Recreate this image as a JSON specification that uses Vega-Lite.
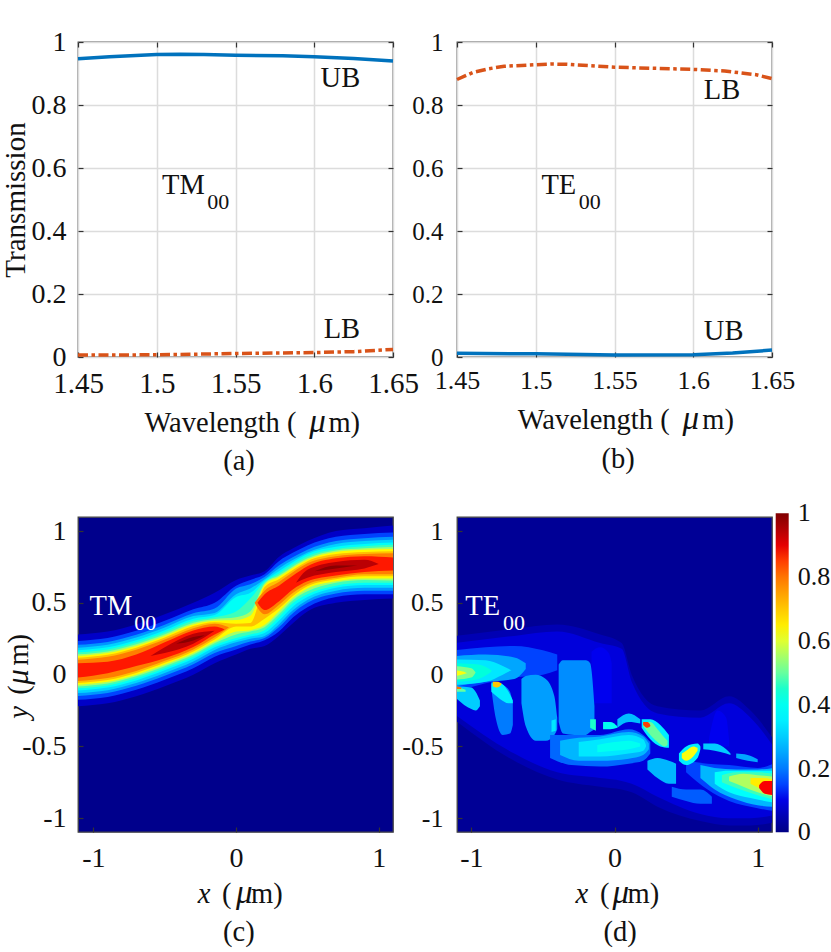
{
"$schema":"https://vega.github.io/schema/vega-lite/v6.json",
"description":"Transmission spectra of TM00 and TE00 modes and normalised field maps",
"padding":{"left":0,"top":27,"right":0,"bottom":0},
"background":"white",
"bounds":"flush",
"columns":2,
"spacing":{"row":160,"column":64},
"resolve":{"scale":{"color":"independent"},"legend":{"color":"independent"}},
"config":{
"font":"Liberation Serif",
"view":{"stroke":"#444","strokeWidth":1.3},
"axis":{"domain":false,"grid":false,"tickSize":-5,"tickColor":"#333","tickWidth":1.2,"labelColor":"#111","labelFontSize":28,"labelPadding":17,"labelFlush":false,"title":null},
"text":{"color":"#111"}
},
"datasets":{
"tm_field":[
{"id":"a1","v":0.07,"x":-1.11,"lo":-0.22,"hi":0.28},{"id":"a1","v":0.07,"x":-0.9,"lo":-0.2,"hi":0.3},{"id":"a1","v":0.07,"x":-0.7,"lo":-0.15,"hi":0.35},{"id":"a1","v":0.07,"x":-0.5,"lo":-0.08,"hi":0.42},{"id":"a1","v":0.07,"x":-0.3,"lo":0,"hi":0.5},{"id":"a1","v":0.07,"x":-0.15,"lo":0.08,"hi":0.57},{"id":"a1","v":0.07,"x":0,"lo":0.14,"hi":0.66},{"id":"a1","v":0.07,"x":0.1,"lo":0.18,"hi":0.69},{"id":"a1","v":0.07,"x":0.2,"lo":0.2,"hi":0.72},{"id":"a1","v":0.07,"x":0.3,"lo":0.27,"hi":0.82},{"id":"a1","v":0.07,"x":0.4,"lo":0.36,"hi":0.88},{"id":"a1","v":0.07,"x":0.5,"lo":0.44,"hi":0.93},{"id":"a1","v":0.07,"x":0.7,"lo":0.5,"hi":1},{"id":"a1","v":0.07,"x":0.9,"lo":0.52,"hi":1.02},{"id":"a1","v":0.07,"x":1.11,"lo":0.53,"hi":1.04},
{"id":"a2","v":0.15,"x":-1.11,"lo":-0.175,"hi":0.235},{"id":"a2","v":0.15,"x":-0.9,"lo":-0.155,"hi":0.255},{"id":"a2","v":0.15,"x":-0.7,"lo":-0.105,"hi":0.305},{"id":"a2","v":0.15,"x":-0.5,"lo":-0.035,"hi":0.375},{"id":"a2","v":0.15,"x":-0.3,"lo":0.045,"hi":0.455},{"id":"a2","v":0.15,"x":-0.15,"lo":0.125,"hi":0.5},{"id":"a2","v":0.15,"x":0,"lo":0.175,"hi":0.62},{"id":"a2","v":0.15,"x":0.1,"lo":0.21,"hi":0.66},{"id":"a2","v":0.15,"x":0.2,"lo":0.24,"hi":0.7},{"id":"a2","v":0.15,"x":0.3,"lo":0.3,"hi":0.79},{"id":"a2","v":0.15,"x":0.4,"lo":0.4,"hi":0.85},{"id":"a2","v":0.15,"x":0.5,"lo":0.47,"hi":0.9},{"id":"a2","v":0.15,"x":0.7,"lo":0.54,"hi":0.96},{"id":"a2","v":0.15,"x":0.9,"lo":0.56,"hi":0.98},{"id":"a2","v":0.15,"x":1.11,"lo":0.56,"hi":0.99},
{"id":"a3","v":0.23,"x":-1.11,"lo":-0.148,"hi":0.208},{"id":"a3","v":0.23,"x":-0.9,"lo":-0.128,"hi":0.228},{"id":"a3","v":0.23,"x":-0.7,"lo":-0.078,"hi":0.278},{"id":"a3","v":0.23,"x":-0.5,"lo":-0.008,"hi":0.348},{"id":"a3","v":0.23,"x":-0.3,"lo":0.072,"hi":0.428},{"id":"a3","v":0.23,"x":-0.15,"lo":0.15,"hi":0.46},{"id":"a3","v":0.23,"x":0,"lo":0.2,"hi":0.6},{"id":"a3","v":0.23,"x":0.1,"lo":0.23,"hi":0.63},{"id":"a3","v":0.23,"x":0.2,"lo":0.255,"hi":0.68},{"id":"a3","v":0.23,"x":0.3,"lo":0.33,"hi":0.76},{"id":"a3","v":0.23,"x":0.4,"lo":0.43,"hi":0.82},{"id":"a3","v":0.23,"x":0.5,"lo":0.5,"hi":0.87},{"id":"a3","v":0.23,"x":0.7,"lo":0.565,"hi":0.93},{"id":"a3","v":0.23,"x":0.9,"lo":0.585,"hi":0.95},{"id":"a3","v":0.23,"x":1.11,"lo":0.585,"hi":0.96},
{"id":"a4","v":0.31,"x":-1.11,"lo":-0.128,"hi":0.188},{"id":"a4","v":0.31,"x":-0.9,"lo":-0.108,"hi":0.208},{"id":"a4","v":0.31,"x":-0.7,"lo":-0.058,"hi":0.258},{"id":"a4","v":0.31,"x":-0.5,"lo":0.012,"hi":0.328},{"id":"a4","v":0.31,"x":-0.3,"lo":0.092,"hi":0.408},{"id":"a4","v":0.31,"x":-0.15,"lo":0.172,"hi":0.43},{"id":"a4","v":0.31,"x":0,"lo":0.225,"hi":0.56},{"id":"a4","v":0.31,"x":0.1,"lo":0.25,"hi":0.6},{"id":"a4","v":0.31,"x":0.2,"lo":0.27,"hi":0.665},{"id":"a4","v":0.31,"x":0.3,"lo":0.35,"hi":0.74},{"id":"a4","v":0.31,"x":0.4,"lo":0.45,"hi":0.8},{"id":"a4","v":0.31,"x":0.5,"lo":0.52,"hi":0.85},{"id":"a4","v":0.31,"x":0.7,"lo":0.585,"hi":0.91},{"id":"a4","v":0.31,"x":0.9,"lo":0.605,"hi":0.93},{"id":"a4","v":0.31,"x":1.11,"lo":0.605,"hi":0.94},
{"id":"a5","v":0.39,"x":-1.11,"lo":-0.11,"hi":0.17},{"id":"a5","v":0.39,"x":-0.9,"lo":-0.09,"hi":0.19},{"id":"a5","v":0.39,"x":-0.7,"lo":-0.04,"hi":0.24},{"id":"a5","v":0.39,"x":-0.5,"lo":0.03,"hi":0.31},{"id":"a5","v":0.39,"x":-0.3,"lo":0.11,"hi":0.39},{"id":"a5","v":0.39,"x":-0.15,"lo":0.19,"hi":0.415},{"id":"a5","v":0.39,"x":0,"lo":0.24,"hi":0.54},{"id":"a5","v":0.39,"x":0.1,"lo":0.265,"hi":0.57},{"id":"a5","v":0.39,"x":0.2,"lo":0.29,"hi":0.655},{"id":"a5","v":0.39,"x":0.3,"lo":0.375,"hi":0.72},{"id":"a5","v":0.39,"x":0.4,"lo":0.475,"hi":0.785},{"id":"a5","v":0.39,"x":0.5,"lo":0.54,"hi":0.84},{"id":"a5","v":0.39,"x":0.7,"lo":0.605,"hi":0.89},{"id":"a5","v":0.39,"x":0.9,"lo":0.625,"hi":0.91},{"id":"a5","v":0.39,"x":1.11,"lo":0.625,"hi":0.92},
{"id":"a6","v":0.47,"x":-1.11,"lo":-0.095,"hi":0.155},{"id":"a6","v":0.47,"x":-0.9,"lo":-0.075,"hi":0.175},{"id":"a6","v":0.47,"x":-0.7,"lo":-0.025,"hi":0.225},{"id":"a6","v":0.47,"x":-0.5,"lo":0.045,"hi":0.295},{"id":"a6","v":0.47,"x":-0.3,"lo":0.125,"hi":0.375},{"id":"a6","v":0.47,"x":-0.15,"lo":0.205,"hi":0.4},{"id":"a6","v":0.47,"x":0,"lo":0.255,"hi":0.44},{"id":"a6","v":0.47,"x":0.1,"lo":0.28,"hi":0.53},{"id":"a6","v":0.47,"x":0.2,"lo":0.31,"hi":0.645},{"id":"a6","v":0.47,"x":0.3,"lo":0.4,"hi":0.705},{"id":"a6","v":0.47,"x":0.4,"lo":0.5,"hi":0.77},{"id":"a6","v":0.47,"x":0.5,"lo":0.56,"hi":0.825},{"id":"a6","v":0.47,"x":0.7,"lo":0.62,"hi":0.875},{"id":"a6","v":0.47,"x":0.9,"lo":0.64,"hi":0.895},{"id":"a6","v":0.47,"x":1.11,"lo":0.64,"hi":0.905},
{"id":"a7","v":0.55,"x":-1.11,"lo":-0.082,"hi":0.142},{"id":"a7","v":0.55,"x":-0.9,"lo":-0.062,"hi":0.162},{"id":"a7","v":0.55,"x":-0.7,"lo":-0.012,"hi":0.212},{"id":"a7","v":0.55,"x":-0.5,"lo":0.058,"hi":0.282},{"id":"a7","v":0.55,"x":-0.3,"lo":0.138,"hi":0.362},{"id":"a7","v":0.55,"x":-0.15,"lo":0.218,"hi":0.388},{"id":"a7","v":0.55,"x":0,"lo":0.28,"hi":0.4},{"id":"a7","v":0.55,"x":0.1,"lo":0.3,"hi":0.44},{"id":"a7","v":0.55,"x":0.2,"lo":0.33,"hi":0.635},{"id":"a7","v":0.55,"x":0.3,"lo":0.42,"hi":0.69},{"id":"a7","v":0.55,"x":0.4,"lo":0.52,"hi":0.755},{"id":"a7","v":0.55,"x":0.5,"lo":0.58,"hi":0.81},{"id":"a7","v":0.55,"x":0.7,"lo":0.64,"hi":0.865},{"id":"a7","v":0.55,"x":0.9,"lo":0.66,"hi":0.88},{"id":"a7","v":0.55,"x":1.11,"lo":0.655,"hi":0.89},
{"id":"a8","v":0.63,"x":-1.11,"lo":-0.07,"hi":0.13},{"id":"a8","v":0.63,"x":-0.9,"lo":-0.05,"hi":0.15},{"id":"a8","v":0.63,"x":-0.7,"lo":0,"hi":0.2},{"id":"a8","v":0.63,"x":-0.5,"lo":0.07,"hi":0.27},{"id":"a8","v":0.63,"x":-0.3,"lo":0.15,"hi":0.35},{"id":"a8","v":0.63,"x":-0.15,"lo":0.23,"hi":0.375},{"id":"a8","v":0.63,"x":0,"lo":0.3,"hi":0.38},{"id":"a8","v":0.63,"x":0.1,"lo":0.31,"hi":0.41},{"id":"a8","v":0.63,"x":0.2,"lo":0.345,"hi":0.625},{"id":"a8","v":0.63,"x":0.3,"lo":0.44,"hi":0.68},{"id":"a8","v":0.63,"x":0.4,"lo":0.535,"hi":0.745},{"id":"a8","v":0.63,"x":0.5,"lo":0.6,"hi":0.8},{"id":"a8","v":0.63,"x":0.7,"lo":0.65,"hi":0.855},{"id":"a8","v":0.63,"x":0.9,"lo":0.67,"hi":0.87},{"id":"a8","v":0.63,"x":1.11,"lo":0.67,"hi":0.875},
{"id":"a9","v":0.71,"x":-1.11,"lo":-0.058,"hi":0.118},{"id":"a9","v":0.71,"x":-0.9,"lo":-0.038,"hi":0.138},{"id":"a9","v":0.71,"x":-0.7,"lo":0.012,"hi":0.188},{"id":"a9","v":0.71,"x":-0.5,"lo":0.082,"hi":0.258},{"id":"a9","v":0.71,"x":-0.3,"lo":0.162,"hi":0.338},{"id":"a9","v":0.71,"x":-0.15,"lo":0.245,"hi":0.365},{"id":"a9","v":0.71,"x":0,"lo":0.335,"hi":0.355},{"id":"a9","v":0.71,"x":0.1,"lo":0.335,"hi":0.36},{"id":"a9","v":0.71,"x":0.2,"lo":0.39,"hi":0.61},{"id":"a9","v":0.71,"x":0.3,"lo":0.46,"hi":0.665},{"id":"a9","v":0.71,"x":0.4,"lo":0.55,"hi":0.73},{"id":"a9","v":0.71,"x":0.5,"lo":0.615,"hi":0.79},{"id":"a9","v":0.71,"x":0.7,"lo":0.665,"hi":0.84},{"id":"a9","v":0.71,"x":0.9,"lo":0.685,"hi":0.855},{"id":"a9","v":0.71,"x":1.11,"lo":0.685,"hi":0.86},
{"id":"b1","v":0.79,"x":-1.11,"lo":-0.044,"hi":0.104},{"id":"b1","v":0.79,"x":-0.9,"lo":-0.024,"hi":0.124},{"id":"b1","v":0.79,"x":-0.7,"lo":0.026,"hi":0.174},{"id":"b1","v":0.79,"x":-0.5,"lo":0.096,"hi":0.244},{"id":"b1","v":0.79,"x":-0.3,"lo":0.176,"hi":0.324},{"id":"b1","v":0.79,"x":-0.15,"lo":0.26,"hi":0.355},{"id":"b1","v":0.79,"x":-0.05,"lo":0.33,"hi":0.33},
{"id":"b2","v":0.79,"x":0.13,"lo":0.5,"hi":0.5},{"id":"b2","v":0.79,"x":0.2,"lo":0.42,"hi":0.585},{"id":"b2","v":0.79,"x":0.3,"lo":0.485,"hi":0.645},{"id":"b2","v":0.79,"x":0.4,"lo":0.57,"hi":0.715},{"id":"b2","v":0.79,"x":0.5,"lo":0.63,"hi":0.775},{"id":"b2","v":0.79,"x":0.7,"lo":0.675,"hi":0.825},{"id":"b2","v":0.79,"x":0.9,"lo":0.7,"hi":0.84},{"id":"b2","v":0.79,"x":1.11,"lo":0.7,"hi":0.845},
{"id":"c1","v":0.87,"x":-1.11,"lo":-0.02,"hi":0.08},{"id":"c1","v":0.87,"x":-0.9,"lo":0.01,"hi":0.09},{"id":"c1","v":0.87,"x":-0.7,"lo":0.06,"hi":0.14},{"id":"c1","v":0.87,"x":-0.5,"lo":0.115,"hi":0.225},{"id":"c1","v":0.87,"x":-0.3,"lo":0.192,"hi":0.308},{"id":"c1","v":0.87,"x":-0.15,"lo":0.28,"hi":0.335},{"id":"c1","v":0.87,"x":-0.08,"lo":0.315,"hi":0.315},
{"id":"c2","v":0.87,"x":0.15,"lo":0.5,"hi":0.5},{"id":"c2","v":0.87,"x":0.2,"lo":0.45,"hi":0.56},{"id":"c2","v":0.87,"x":0.3,"lo":0.51,"hi":0.62},{"id":"c2","v":0.87,"x":0.4,"lo":0.595,"hi":0.69},{"id":"c2","v":0.87,"x":0.5,"lo":0.65,"hi":0.755},{"id":"c2","v":0.87,"x":0.7,"lo":0.69,"hi":0.81},{"id":"c2","v":0.87,"x":0.9,"lo":0.715,"hi":0.825},{"id":"c2","v":0.87,"x":1.11,"lo":0.725,"hi":0.815},
{"id":"d1","v":0.94,"x":-0.6,"lo":0.13,"hi":0.13},{"id":"d1","v":0.94,"x":-0.5,"lo":0.15,"hi":0.19},{"id":"d1","v":0.94,"x":-0.3,"lo":0.215,"hi":0.285},{"id":"d1","v":0.94,"x":-0.15,"lo":0.305,"hi":0.305},
{"id":"d2","v":0.94,"x":0.42,"lo":0.64,"hi":0.64},{"id":"d2","v":0.94,"x":0.5,"lo":0.675,"hi":0.73},{"id":"d2","v":0.94,"x":0.7,"lo":0.715,"hi":0.785},{"id":"d2","v":0.94,"x":0.9,"lo":0.74,"hi":0.8},{"id":"d2","v":0.94,"x":1,"lo":0.77,"hi":0.77},
{"id":"e1","v":0.99,"x":-0.42,"lo":0.215,"hi":0.215},{"id":"e1","v":0.99,"x":-0.3,"lo":0.238,"hi":0.262},{"id":"e1","v":0.99,"x":-0.22,"lo":0.275,"hi":0.275},
{"id":"e2","v":0.99,"x":0.55,"lo":0.72,"hi":0.72},{"id":"e2","v":0.99,"x":0.7,"lo":0.74,"hi":0.76},{"id":"e2","v":0.99,"x":0.85,"lo":0.76,"hi":0.76}
],
"te_field":[
{"id":"glow0","v":0.05,"x":-1.11,"lo":-0.32,"hi":0.27},{"id":"glow0","v":0.05,"x":-0.7,"lo":-0.6,"hi":0.32},{"id":"glow0","v":0.05,"x":-0.4,"lo":-0.73,"hi":0.35},{"id":"glow0","v":0.05,"x":-0.1,"lo":-0.78,"hi":0.28},{"id":"glow0","v":0.05,"x":0.05,"lo":-0.8,"hi":0.22},{"id":"glow0","v":0.05,"x":0.12,"lo":-0.82,"hi":0},{"id":"glow0","v":0.05,"x":0.3,"lo":-0.92,"hi":-0.22},{"id":"glow0","v":0.05,"x":0.6,"lo":-1.02,"hi":-0.25},{"id":"glow0","v":0.05,"x":0.8,"lo":-1.05,"hi":-0.15},{"id":"glow0","v":0.05,"x":0.95,"lo":-1.05,"hi":-0.25},{"id":"glow0","v":0.05,"x":1.11,"lo":-1.03,"hi":-0.45},
{"id":"glow","v":0.09,"x":-1.11,"lo":-0.28,"hi":0.22},{"id":"glow","v":0.09,"x":-0.7,"lo":-0.55,"hi":0.27},{"id":"glow","v":0.09,"x":-0.4,"lo":-0.68,"hi":0.3},{"id":"glow","v":0.09,"x":-0.1,"lo":-0.72,"hi":0.22},{"id":"glow","v":0.09,"x":0.05,"lo":-0.74,"hi":0.18},{"id":"glow","v":0.09,"x":0.12,"lo":-0.76,"hi":-0.05},{"id":"glow","v":0.09,"x":0.3,"lo":-0.85,"hi":-0.27},{"id":"glow","v":0.09,"x":0.6,"lo":-0.97,"hi":-0.3},{"id":"glow","v":0.09,"x":0.8,"lo":-1,"hi":-0.2},{"id":"glow","v":0.09,"x":0.95,"lo":-1,"hi":-0.3},{"id":"glow","v":0.09,"x":1.11,"lo":-0.98,"hi":-0.5},
{"id":"tri","v":0.11,"x":0.66,"lo":-0.5,"hi":-0.45},{"id":"tri","v":0.11,"x":0.72,"lo":-0.5,"hi":-0.25},{"id":"tri","v":0.11,"x":0.78,"lo":-0.5,"hi":-0.3},{"id":"tri","v":0.11,"x":0.8,"lo":-0.5,"hi":-0.45},
{"id":"s1","v":0.15,"x":-1.11,"lo":-0.12,"hi":0.17},{"id":"s1","v":0.15,"x":-0.9,"lo":-0.06,"hi":0.19},{"id":"s1","v":0.15,"x":-0.7,"lo":-0.02,"hi":0.2},{"id":"s1","v":0.15,"x":-0.5,"lo":0,"hi":0.17},{"id":"s1","v":0.15,"x":-0.4,"lo":0.03,"hi":0.14},
{"id":"s2","v":0.25,"x":-1.11,"lo":-0.08,"hi":0.13},{"id":"s2","v":0.25,"x":-0.9,"lo":-0.05,"hi":0.14},{"id":"s2","v":0.25,"x":-0.7,"lo":-0.03,"hi":0.12},{"id":"s2","v":0.25,"x":-0.62,"lo":0.04,"hi":0.08},
{"id":"s3","v":0.34,"x":-1.11,"lo":-0.07,"hi":0.105},{"id":"s3","v":0.34,"x":-0.9,"lo":-0.05,"hi":0.1},{"id":"s3","v":0.34,"x":-0.78,"lo":0,"hi":0.06},{"id":"s3","v":0.34,"x":-0.72,"lo":0.03,"hi":0.03},
{"id":"s4","v":0.43,"x":-1.11,"lo":-0.05,"hi":0.08},{"id":"s4","v":0.43,"x":-0.95,"lo":-0.03,"hi":0.07},{"id":"s4","v":0.43,"x":-0.86,"lo":0.02,"hi":0.03},
{"id":"s5","v":0.52,"x":-1.11,"lo":-0.035,"hi":0.06},{"id":"s5","v":0.52,"x":-1,"lo":-0.02,"hi":0.045},{"id":"s5","v":0.52,"x":-0.97,"lo":0.015,"hi":0.015},
{"id":"s6","v":0.62,"x":-1.11,"lo":-0.01,"hi":0.03},{"id":"s6","v":0.62,"x":-1.05,"lo":0.005,"hi":0.02},{"id":"s6","v":0.62,"x":-1.03,"lo":0.01,"hi":0.01},
{"id":"l0","v":0.3,"x":-1.11,"lo":-0.16,"hi":-0.08},{"id":"l0","v":0.3,"x":-1,"lo":-0.24,"hi":-0.09},{"id":"l0","v":0.3,"x":-0.97,"lo":-0.25,"hi":-0.12},{"id":"l0","v":0.3,"x":-0.94,"lo":-0.22,"hi":-0.18},
{"id":"l0b","v":0.5,"x":-1.11,"lo":-0.12,"hi":-0.08},{"id":"l0b","v":0.5,"x":-1.04,"lo":-0.12,"hi":-0.105},
{"id":"l0c","v":0.8,"x":-1.11,"lo":-0.1,"hi":-0.08},{"id":"l0c","v":0.8,"x":-1.07,"lo":-0.1,"hi":-0.09},
{"id":"l1","v":0.2,"x":-0.86,"lo":-0.1,"hi":-0.05},{"id":"l1","v":0.2,"x":-0.83,"lo":-0.3,"hi":-0.05},{"id":"l1","v":0.2,"x":-0.78,"lo":-0.42,"hi":-0.07},{"id":"l1","v":0.2,"x":-0.73,"lo":-0.41,"hi":-0.12},{"id":"l1","v":0.2,"x":-0.71,"lo":-0.35,"hi":-0.2},
{"id":"l1b","v":0.35,"x":-0.86,"lo":-0.12,"hi":-0.06},{"id":"l1b","v":0.35,"x":-0.8,"lo":-0.17,"hi":-0.06},{"id":"l1b","v":0.35,"x":-0.74,"lo":-0.2,"hi":-0.12},{"id":"l1b","v":0.35,"x":-0.71,"lo":-0.2,"hi":-0.18},
{"id":"l1c","v":0.7,"x":-0.85,"lo":-0.08,"hi":-0.05},{"id":"l1c","v":0.7,"x":-0.82,"lo":-0.09,"hi":-0.05},{"id":"l1c","v":0.7,"x":-0.79,"lo":-0.07,"hi":-0.06},
{"id":"l2","v":0.24,"x":-0.65,"lo":-0.2,"hi":-0.03},{"id":"l2","v":0.24,"x":-0.62,"lo":-0.36,"hi":-0.01},{"id":"l2","v":0.24,"x":-0.55,"lo":-0.46,"hi":0},{"id":"l2","v":0.24,"x":-0.48,"lo":-0.46,"hi":-0.03},{"id":"l2","v":0.24,"x":-0.42,"lo":-0.42,"hi":-0.15},{"id":"l2","v":0.24,"x":-0.4,"lo":-0.38,"hi":-0.3},
{"id":"l2b","v":0.34,"x":-0.44,"lo":-0.4,"hi":-0.32},{"id":"l2b","v":0.34,"x":-0.41,"lo":-0.39,"hi":-0.31},
{"id":"l4","v":0.11,"x":-0.16,"lo":-0.2,"hi":0.16},{"id":"l4","v":0.11,"x":-0.1,"lo":-0.2,"hi":0.19},{"id":"l4","v":0.11,"x":-0.04,"lo":-0.2,"hi":0.15},{"id":"l4","v":0.11,"x":-0.02,"lo":-0.2,"hi":0.08},
{"id":"l3","v":0.22,"x":-0.39,"lo":-0.33,"hi":0.07},{"id":"l3","v":0.22,"x":-0.36,"lo":-0.41,"hi":0.1},{"id":"l3","v":0.22,"x":-0.28,"lo":-0.42,"hi":0.1},{"id":"l3","v":0.22,"x":-0.2,"lo":-0.42,"hi":0.1},{"id":"l3","v":0.22,"x":-0.17,"lo":-0.4,"hi":0.08},{"id":"l3","v":0.22,"x":-0.14,"lo":-0.38,"hi":-0.22},
{"id":"l3b","v":0.45,"x":-0.17,"lo":-0.37,"hi":-0.31},{"id":"l3b","v":0.45,"x":-0.13,"lo":-0.39,"hi":-0.31},
{"id":"c1","v":0.18,"x":-0.45,"lo":-0.58,"hi":-0.42},{"id":"c1","v":0.18,"x":-0.3,"lo":-0.63,"hi":-0.42},{"id":"c1","v":0.18,"x":-0.1,"lo":-0.64,"hi":-0.42},{"id":"c1","v":0.18,"x":0.1,"lo":-0.62,"hi":-0.38},{"id":"c1","v":0.18,"x":0.2,"lo":-0.6,"hi":-0.42},{"id":"c1","v":0.18,"x":0.25,"lo":-0.55,"hi":-0.47},
{"id":"c2","v":0.27,"x":-0.38,"lo":-0.56,"hi":-0.46},{"id":"c2","v":0.27,"x":-0.25,"lo":-0.6,"hi":-0.44},{"id":"c2","v":0.27,"x":-0.1,"lo":-0.6,"hi":-0.43},{"id":"c2","v":0.27,"x":0.1,"lo":-0.585,"hi":-0.4},{"id":"c2","v":0.27,"x":0.2,"lo":-0.56,"hi":-0.43},{"id":"c2","v":0.27,"x":0.24,"lo":-0.52,"hi":-0.48},
{"id":"c3","v":0.34,"x":-0.25,"lo":-0.57,"hi":-0.47},{"id":"c3","v":0.34,"x":-0.1,"lo":-0.57,"hi":-0.45},{"id":"c3","v":0.34,"x":0.1,"lo":-0.55,"hi":-0.42},{"id":"c3","v":0.34,"x":0.2,"lo":-0.53,"hi":-0.45},{"id":"c3","v":0.34,"x":0.22,"lo":-0.5,"hi":-0.49},
{"id":"c4","v":0.4,"x":-0.12,"lo":-0.54,"hi":-0.49},{"id":"c4","v":0.4,"x":0,"lo":-0.53,"hi":-0.47},{"id":"c4","v":0.4,"x":0.1,"lo":-0.52,"hi":-0.46},{"id":"c4","v":0.4,"x":0.18,"lo":-0.5,"hi":-0.48},
{"id":"c5","v":0.4,"x":-0.08,"lo":-0.38,"hi":-0.33},{"id":"c5","v":0.4,"x":-0.03,"lo":-0.38,"hi":-0.33},{"id":"c5","v":0.4,"x":0.02,"lo":-0.37,"hi":-0.36},
{"id":"c6","v":0.28,"x":0.02,"lo":-0.37,"hi":-0.31},{"id":"c6","v":0.28,"x":0.1,"lo":-0.33,"hi":-0.27},{"id":"c6","v":0.28,"x":0.18,"lo":-0.34,"hi":-0.31},
{"id":"p1","v":0.35,"x":0.19,"lo":-0.37,"hi":-0.31},{"id":"p1","v":0.35,"x":0.25,"lo":-0.45,"hi":-0.31},{"id":"p1","v":0.35,"x":0.32,"lo":-0.5,"hi":-0.35},{"id":"p1","v":0.35,"x":0.38,"lo":-0.51,"hi":-0.42},
{"id":"p2","v":0.5,"x":0.2,"lo":-0.36,"hi":-0.33},{"id":"p2","v":0.5,"x":0.25,"lo":-0.42,"hi":-0.33},{"id":"p2","v":0.5,"x":0.3,"lo":-0.47,"hi":-0.38},{"id":"p2","v":0.5,"x":0.35,"lo":-0.5,"hi":-0.44},{"id":"p2","v":0.5,"x":0.37,"lo":-0.49,"hi":-0.46},
{"id":"p3","v":0.85,"x":0.2,"lo":-0.35,"hi":-0.33},{"id":"p3","v":0.85,"x":0.23,"lo":-0.37,"hi":-0.33},{"id":"p3","v":0.85,"x":0.25,"lo":-0.36,"hi":-0.35},
{"id":"q1","v":0.27,"x":0.23,"lo":-0.66,"hi":-0.6},{"id":"q1","v":0.27,"x":0.3,"lo":-0.72,"hi":-0.58},{"id":"q1","v":0.27,"x":0.38,"lo":-0.76,"hi":-0.6},{"id":"q1","v":0.27,"x":0.43,"lo":-0.76,"hi":-0.62},
{"id":"q2","v":0.17,"x":0.4,"lo":-0.85,"hi":-0.78},{"id":"q2","v":0.17,"x":0.5,"lo":-0.88,"hi":-0.8},{"id":"q2","v":0.17,"x":0.6,"lo":-0.9,"hi":-0.8},{"id":"q2","v":0.17,"x":0.68,"lo":-0.9,"hi":-0.85},
{"id":"r1","v":0.15,"x":0.5,"lo":-0.68,"hi":-0.6},{"id":"r1","v":0.15,"x":0.65,"lo":-0.8,"hi":-0.62},{"id":"r1","v":0.15,"x":0.8,"lo":-0.88,"hi":-0.63},{"id":"r1","v":0.15,"x":1,"lo":-0.93,"hi":-0.65},{"id":"r1","v":0.15,"x":1.11,"lo":-0.95,"hi":-0.62},
{"id":"r2","v":0.27,"x":0.6,"lo":-0.72,"hi":-0.63},{"id":"r2","v":0.27,"x":0.7,"lo":-0.8,"hi":-0.65},{"id":"r2","v":0.27,"x":0.85,"lo":-0.87,"hi":-0.66},{"id":"r2","v":0.27,"x":1,"lo":-0.91,"hi":-0.66},{"id":"r2","v":0.27,"x":1.11,"lo":-0.92,"hi":-0.65},
{"id":"r3","v":0.38,"x":0.7,"lo":-0.76,"hi":-0.68},{"id":"r3","v":0.38,"x":0.8,"lo":-0.82,"hi":-0.67},{"id":"r3","v":0.38,"x":0.95,"lo":-0.86,"hi":-0.67},{"id":"r3","v":0.38,"x":1.11,"lo":-0.89,"hi":-0.67},
{"id":"r4","v":0.47,"x":0.75,"lo":-0.75,"hi":-0.7},{"id":"r4","v":0.47,"x":0.85,"lo":-0.79,"hi":-0.68},{"id":"r4","v":0.47,"x":1,"lo":-0.84,"hi":-0.68},{"id":"r4","v":0.47,"x":1.11,"lo":-0.87,"hi":-0.69},
{"id":"r5","v":0.56,"x":0.8,"lo":-0.74,"hi":-0.71},{"id":"r5","v":0.56,"x":0.9,"lo":-0.78,"hi":-0.69},{"id":"r5","v":0.56,"x":1,"lo":-0.82,"hi":-0.7},{"id":"r5","v":0.56,"x":1.11,"lo":-0.85,"hi":-0.71},
{"id":"r6","v":0.65,"x":0.95,"lo":-0.76,"hi":-0.72},{"id":"r6","v":0.65,"x":1.03,"lo":-0.8,"hi":-0.72},{"id":"r6","v":0.65,"x":1.11,"lo":-0.83,"hi":-0.73},
{"id":"r7","v":0.88,"x":1.01,"lo":-0.79,"hi":-0.77},{"id":"r7","v":0.88,"x":1.05,"lo":-0.83,"hi":-0.74},{"id":"r7","v":0.88,"x":1.11,"lo":-0.84,"hi":-0.74},
{"id":"t1","v":0.35,"x":0.45,"lo":-0.6,"hi":-0.55},{"id":"t1","v":0.35,"x":0.5,"lo":-0.63,"hi":-0.5},{"id":"t1","v":0.35,"x":0.58,"lo":-0.58,"hi":-0.48},{"id":"t1","v":0.35,"x":0.6,"lo":-0.52,"hi":-0.5},
{"id":"t2","v":0.62,"x":0.47,"lo":-0.58,"hi":-0.55},{"id":"t2","v":0.62,"x":0.5,"lo":-0.6,"hi":-0.53},{"id":"t2","v":0.62,"x":0.55,"lo":-0.57,"hi":-0.5},{"id":"t2","v":0.62,"x":0.58,"lo":-0.53,"hi":-0.51},
{"id":"t3","v":0.3,"x":0.62,"lo":-0.52,"hi":-0.48},{"id":"t3","v":0.3,"x":0.7,"lo":-0.53,"hi":-0.48},{"id":"t3","v":0.3,"x":0.78,"lo":-0.55,"hi":-0.52},{"id":"t3","v":0.3,"x":0.81,"lo":-0.56,"hi":-0.55},
{"id":"t4","v":0.25,"x":0.85,"lo":-0.58,"hi":-0.55},{"id":"t4","v":0.25,"x":0.93,"lo":-0.6,"hi":-0.56},{"id":"t4","v":0.25,"x":1,"lo":-0.61,"hi":-0.59}
]
},
"concat":[
{"width":315,"height":315,
"resolve":{"axis":{"x":"independent","y":"independent"}},
"encoding":{
"x":{"field":"x","type":"quantitative","scale":{"domain":[1.45,1.65],"nice":false},"axis":null},
"y":{"field":"y","type":"quantitative","scale":{"domain":[0,1],"nice":false},"axis":null}
},
"layer":[
{"data":{"values":[{"x":1.45,"y":0.947},{"x":1.47,"y":0.953},{"x":1.5,"y":0.96},{"x":1.515,"y":0.961},{"x":1.53,"y":0.96},{"x":1.55,"y":0.958},{"x":1.58,"y":0.956},{"x":1.6,"y":0.953},{"x":1.625,"y":0.948},{"x":1.65,"y":0.94}]},
"mark":{"type":"line","stroke":"#0072BD","strokeWidth":3.5},
"encoding":{
"x":{"field":"x","type":"quantitative","axis":{"values":[1.45,1.5,1.55,1.6,1.65],"labelExpr":"datum.value+''","grid":true,"gridColor":"#dcdcdc","gridWidth":1.5,"labelFontSize":29}},
"y":{"field":"y","type":"quantitative","axis":{"values":[0,0.2,0.4,0.6,0.8,1],"labelExpr":"datum.value+''","grid":true,"gridColor":"#dcdcdc","gridWidth":1.5,"title":"Transmission","titleFontSize":29,"titleFontWeight":"normal","titleColor":"#111","titlePadding":1}}
}},
{"data":{"values":[{"x":1.45,"y":0.006},{"x":1.5,"y":0.007},{"x":1.55,"y":0.011},{"x":1.6,"y":0.014},{"x":1.625,"y":0.017},{"x":1.65,"y":0.024}]},
"mark":{"type":"line","stroke":"#D95319","strokeWidth":3.5,"strokeDash":[10,3.5,3.5,3.5]},
"encoding":{
"x":{"field":"x","type":"quantitative","axis":{"orient":"top","values":[1.45,1.5,1.55,1.6,1.65],"labels":false}},
"y":{"field":"y","type":"quantitative","axis":{"orient":"right","values":[0,0.2,0.4,0.6,0.8,1],"labels":false}}
}},
{"data":{"values":[{"x":1.604,"y":0.857,"t":"UB"},{"x":1.606,"y":0.061,"t":"LB"},{"x":1.5034,"y":0.516,"t":"TM"},{"x":1.4922,"y":-0.238,"t":"Wavelength ("},{"x":1.609,"y":-0.238,"t":"m)"},{"x":1.5422,"y":-0.36,"t":"(a)"}]},
"mark":{"type":"text","align":"left","baseline":"alphabetic","fontSize":28.5},
"encoding":{"text":{"field":"t"}}},
{"data":{"values":[{"x":1.5968,"y":-0.238,"t":"μ"}]},
"mark":{"type":"text","align":"left","baseline":"alphabetic","fontSize":33,"fontStyle":"italic"},
"encoding":{"text":{"field":"t"}}},
{"data":{"values":[{"x":1.532,"y":0.471,"t":"00"}]},
"mark":{"type":"text","align":"left","baseline":"alphabetic","fontSize":22},
"encoding":{"text":{"field":"t"}}}
]},
{"width":315,"height":315,
"resolve":{"axis":{"x":"independent","y":"independent"}},
"encoding":{
"x":{"field":"x","type":"quantitative","scale":{"domain":[1.45,1.65],"nice":false},"axis":null},
"y":{"field":"y","type":"quantitative","scale":{"domain":[0,1],"nice":false},"axis":null}
},
"layer":[
{"data":{"values":[{"x":1.45,"y":0.012},{"x":1.5,"y":0.01},{"x":1.55,"y":0.006},{"x":1.6,"y":0.007},{"x":1.625,"y":0.013},{"x":1.65,"y":0.022}]},
"mark":{"type":"line","stroke":"#0072BD","strokeWidth":3.5},
"encoding":{
"x":{"field":"x","type":"quantitative","axis":{"values":[1.45,1.5,1.55,1.6,1.65],"labelExpr":"datum.value+''","grid":true,"gridColor":"#dcdcdc","gridWidth":1.5,"labelFontSize":26,"labelPadding":15}},
"y":{"field":"y","type":"quantitative","axis":{"values":[0,0.2,0.4,0.6,0.8,1],"labelExpr":"datum.value+''","grid":true,"gridColor":"#dcdcdc","gridWidth":1.5,"labelFontSize":25,"labelPadding":19}}
}},
{"data":{"values":[{"x":1.45,"y":0.881},{"x":1.46,"y":0.903},{"x":1.47,"y":0.915},{"x":1.48,"y":0.923},{"x":1.5,"y":0.928},{"x":1.51,"y":0.93},{"x":1.52,"y":0.929},{"x":1.55,"y":0.92},{"x":1.6,"y":0.913},{"x":1.62,"y":0.908},{"x":1.64,"y":0.896},{"x":1.65,"y":0.884}]},
"mark":{"type":"line","stroke":"#D95319","strokeWidth":3.5,"strokeDash":[10,3.5,3.5,3.5]},
"encoding":{
"x":{"field":"x","type":"quantitative","axis":{"orient":"top","values":[1.45,1.5,1.55,1.6,1.65],"labels":false}},
"y":{"field":"y","type":"quantitative","axis":{"orient":"right","values":[0,0.2,0.4,0.6,0.8,1],"labels":false}}
}},
{"data":{"values":[{"x":1.6067,"y":0.82,"t":"LB"},{"x":1.6067,"y":0.053,"t":"UB"},{"x":1.5036,"y":0.516,"t":"TE"},{"x":1.4885,"y":-0.227,"t":"Wavelength ("},{"x":1.6057,"y":-0.227,"t":"m)"},{"x":1.5418,"y":-0.353,"t":"(b)"}]},
"mark":{"type":"text","align":"left","baseline":"alphabetic","fontSize":28.5},
"encoding":{"text":{"field":"t"}}},
{"data":{"values":[{"x":1.5932,"y":-0.227,"t":"μ"}]},
"mark":{"type":"text","align":"left","baseline":"alphabetic","fontSize":33,"fontStyle":"italic"},
"encoding":{"text":{"field":"t"}}},
{"data":{"values":[{"x":1.5273,"y":0.471,"t":"00"}]},
"mark":{"type":"text","align":"left","baseline":"alphabetic","fontSize":22},
"encoding":{"text":{"field":"t"}}}
]},
{"width":315,"height":315,
"view":{"fill":"#00008c"},
"resolve":{"axis":{"x":"independent","y":"independent"}},
"encoding":{
"x":{"field":"x","type":"quantitative","scale":{"domain":[-1.108,1.1],"nice":false},"axis":null},
"y":{"field":"y","type":"quantitative","scale":{"domain":[-1.096,1.098],"nice":false},"axis":null}
},
"layer":[
{"data":{"name":"tm_field"},
"mark":{"type":"area","interpolate":"monotone","clip":true},
"encoding":{
"x":{"field":"x","type":"quantitative","axis":{"values":[-1,0,1],"labelExpr":"datum.value+''"}},
"y":{"field":"lo","type":"quantitative","axis":{"values":[-1,-0.5,0,0.5,1],"labelExpr":"datum.value+''"}},
"y2":{"field":"hi"},
"detail":{"field":"id"},
"color":{"field":"v","type":"quantitative","legend":null,"scale":{"domain":[0,0.125,0.375,0.625,0.875,1],"range":["#000084","#0000ff","#00ffff","#ffff00","#ff0000","#800000"]}}
}},
{"data":{"values":[{"x":-1.027,"y":0.417,"t":"TM"}]},
"mark":{"type":"text","align":"left","baseline":"alphabetic","fontSize":28.5,"color":"white"},
"encoding":{"text":{"field":"t"}}},
{"data":{"values":[{"x":-0.713,"y":0.314,"t":"00"}]},
"mark":{"type":"text","align":"left","baseline":"alphabetic","fontSize":22,"color":"white"},
"encoding":{"text":{"field":"t"}}},
{"data":{"values":[{"x":-0.098,"y":-1.591,"t":"("},{"x":0.105,"y":-1.591,"t":"m)"},{"x":-0.091,"y":-1.856,"t":"(c)"}]},
"mark":{"type":"text","align":"left","baseline":"alphabetic","fontSize":28.5},
"encoding":{"text":{"field":"t"}}},
{"data":{"values":[{"x":-0.269,"y":-1.591,"t":"x"}]},
"mark":{"type":"text","align":"left","baseline":"alphabetic","fontSize":28.5,"fontStyle":"italic"},
"encoding":{"text":{"field":"t"}}},
{"data":{"values":[{"x":0,"y":-1.591,"t":"μ"}]},
"mark":{"type":"text","align":"left","baseline":"alphabetic","fontSize":33,"fontStyle":"italic"},
"encoding":{"text":{"field":"t"}}},
{"data":{"values":[{"x":-1.46,"y":-0.14,"t":"("},{"x":-1.46,"y":0.063,"t":"m)"}]},
"mark":{"type":"text","align":"left","baseline":"alphabetic","fontSize":28.5,"angle":270},
"encoding":{"text":{"field":"t"}}},
{"data":{"values":[{"x":-1.46,"y":-0.307,"t":"y"}]},
"mark":{"type":"text","align":"left","baseline":"alphabetic","fontSize":28.5,"fontStyle":"italic","angle":270},
"encoding":{"text":{"field":"t"}}},
{"data":{"values":[{"x":-1.46,"y":-0.07,"t":"μ"}]},
"mark":{"type":"text","align":"left","baseline":"alphabetic","fontSize":31,"fontStyle":"italic","angle":270},
"encoding":{"text":{"field":"t"}}}
]},
{"width":315,"height":315,
"view":{"fill":"#000096"},
"resolve":{"axis":{"x":"independent","y":"independent"}},
"encoding":{
"x":{"field":"x","type":"quantitative","scale":{"domain":[-1.1,1.1],"nice":false},"axis":null},
"y":{"field":"y","type":"quantitative","scale":{"domain":[-1.096,1.098],"nice":false},"axis":null}
},
"layer":[
{"data":{"name":"te_field"},
"mark":{"type":"area","interpolate":"monotone","clip":true},
"encoding":{
"x":{"field":"x","type":"quantitative","axis":{"values":[-1,0,1],"labelExpr":"datum.value+''"}},
"y":{"field":"lo","type":"quantitative","axis":{"values":[-1,-0.5,0,0.5,1],"labelExpr":"datum.value+''","labelFontSize":26,"labelPadding":19}},
"y2":{"field":"hi"},
"detail":{"field":"id"},
"color":{"field":"v","type":"quantitative","scale":{"domain":[0,0.125,0.375,0.625,0.875,1],"range":["#000084","#0000ff","#00ffff","#ffff00","#ff0000","#800000"]},
"legend":{"orient":"none","legendX":318.7,"legendY":-3.7,"title":null,"gradientLength":319,"gradientThickness":13,"gradientStrokeWidth":0,"values":[0,0.2,0.4,0.6,0.8,1],"format":"~g","labelFontSize":26,"labelColor":"#111","labelOffset":9,"encode":{"labels":{"update":{"baseline":{"value":"middle"}}}}}}
}},
{"data":{"values":[{"x":-1.042,"y":0.416,"t":"TE"}]},
"mark":{"type":"text","align":"left","baseline":"alphabetic","fontSize":28.5,"color":"white"},
"encoding":{"text":{"field":"t"}}},
{"data":{"values":[{"x":-0.779,"y":0.314,"t":"00"}]},
"mark":{"type":"text","align":"left","baseline":"alphabetic","fontSize":22,"color":"white"},
"encoding":{"text":{"field":"t"}}},
{"data":{"values":[{"x":-0.101,"y":-1.591,"t":"("},{"x":0.091,"y":-1.591,"t":"m)"},{"x":-0.077,"y":-1.856,"t":"(d)"}]},
"mark":{"type":"text","align":"left","baseline":"alphabetic","fontSize":28.5},
"encoding":{"text":{"field":"t"}}},
{"data":{"values":[{"x":-0.273,"y":-1.591,"t":"x"}]},
"mark":{"type":"text","align":"left","baseline":"alphabetic","fontSize":28.5,"fontStyle":"italic"},
"encoding":{"text":{"field":"t"}}},
{"data":{"values":[{"x":-0.014,"y":-1.591,"t":"μ"}]},
"mark":{"type":"text","align":"left","baseline":"alphabetic","fontSize":33,"fontStyle":"italic"},
"encoding":{"text":{"field":"t"}}}
]}
]
}
